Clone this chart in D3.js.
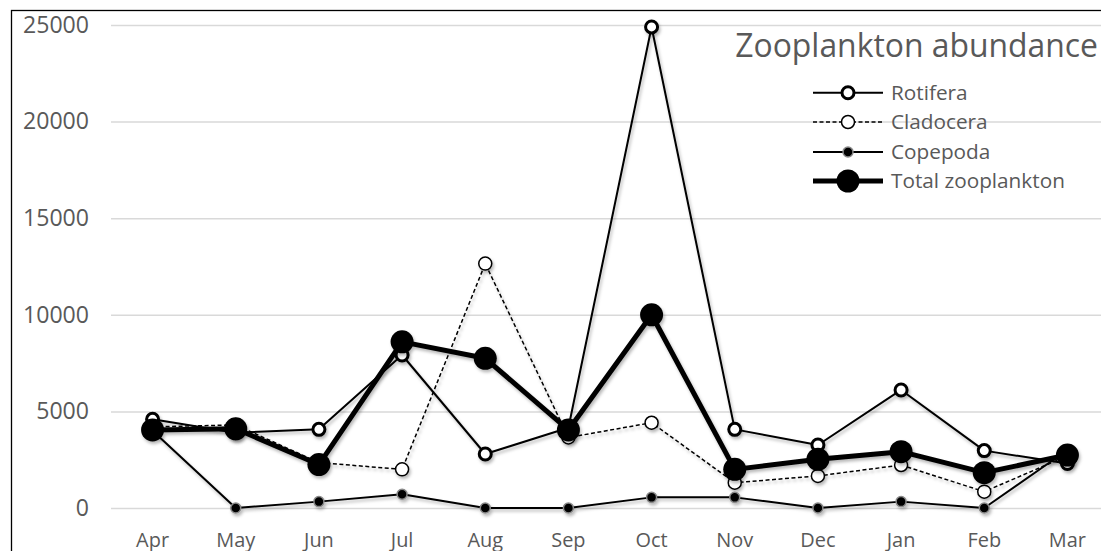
<!DOCTYPE html>
<html><head><meta charset="utf-8">
<script src="https://cdn.jsdelivr.net/npm/d3@7"></script>
<style>body{margin:0;background:#fff;} svg{display:block}</style>
</head><body>
<svg id="c" width="1101" height="551"></svg>
<script>
const months = ["Apr","May","Jun","Jul","Aug","Sep","Oct","Nov","Dec","Jan","Feb","Mar"];
const rotifera  = [4590, 3900, 4070, 7920, 2795, 4150, 24900, 4070, 3260, 6110, 2970, 2300];
const cladocera = [4200, 4300, 2350, 2000, 12650, 3650, 4415, 1310, 1660, 2225, 845, 2700];
const copepoda  = [4000, 0, 330, 710, 0, 0, 550, 550, 0, 330, 0, 3000];
const total     = [4040, 4100, 2250, 8600, 7750, 4040, 10000, 2000, 2520, 2915, 1830, 2740];
const yTicks = [0, 5000, 10000, 15000, 20000, 25000];
const titleText = "Zooplankton abundance";
const seriesNames = ["Rotifera", "Cladocera", "Copepoda", "Total zooplankton"];

(function(){
const svg = d3.select("#c");
const textColor = "#595959";
const fontFam = "'Open Sans', 'Liberation Sans', sans-serif";

const defs = svg.append("defs");
const f = defs.append("filter").attr("id","sh").attr("x","-20%").attr("y","-20%").attr("width","140%").attr("height","140%");
f.append("feDropShadow").attr("dx",1.5).attr("dy",2.5).attr("stdDeviation",1.6)
  .attr("flood-color","#000").attr("flood-opacity",0.28);

const pLeft = 111, pRight = 1109, pTop = 25, pBottom = 508;
const x = d3.scaleBand().domain(months).range([pLeft, pRight]);
const cx = m => x(m) + x.bandwidth()/2;
const y = d3.scaleLinear().domain([0, 25000]).range([pBottom, pTop]);

function fitSize(str, target) {
  const t = svg.append("text").attr("font-family", fontFam).attr("font-size", 100).text(str);
  const w = t.node().getComputedTextLength();
  t.remove();
  return 100 * target / w;
}
const ySize = fitSize("25000", 66);
const xSize = fitSize("May", 39);
const legSize = fitSize("Total zooplankton", 174);
const titleSize = fitSize(titleText, 363);

svg.append("rect").attr("x", 11.5).attr("y", 10.5).attr("width", 1200).attr("height", 700)
  .attr("fill", "none").attr("stroke", "#000").attr("stroke-width", 1.3);

const yAxis = svg.append("g").attr("transform", `translate(${pLeft},0)`)
  .call(d3.axisLeft(y).tickValues(yTicks).tickSize(-(pRight-pLeft)).tickPadding(22).tickFormat(d3.format("d")));
yAxis.select(".domain").remove();
yAxis.selectAll("line").attr("stroke", "#d9d9d9").attr("stroke-width", 1.5);
yAxis.selectAll("text").attr("fill", textColor).attr("font-family", fontFam).attr("font-size", ySize);

const xAxis = svg.append("g").attr("transform", `translate(0,${pBottom})`)
  .call(d3.axisBottom(x).tickSize(0).tickPadding(0));
xAxis.select(".domain").remove();
xAxis.selectAll("text").attr("fill", textColor).attr("font-family", fontFam).attr("font-size", xSize)
  .attr("dy", null).attr("y", 39);

svg.append("text").attr("x", 1098).attr("y", 57).attr("text-anchor", "end")
  .attr("fill", textColor).attr("font-family", fontFam).attr("font-size", titleSize).text(titleText);

const styles = [
  {data: rotifera, lw: 2, dash: null, r: 6, fill: "#fff", stroke: "#000", sw: 3},
  {data: cladocera, lw: 1.5, dash: "4,2.5", r: 6.5, fill: "#fff", stroke: "#000", sw: 1.5},
  {data: copepoda, lw: 2, dash: null, r: 5, fill: "#000", stroke: "#888", sw: 1.5},
  {data: total, lw: 5, dash: null, r: 11.5, fill: "#000", stroke: "#000", sw: 0}
];

const line = d3.line().x((d,i) => cx(months[i])).y(d => y(d));

styles.forEach(s => {
  const g = svg.append("g").attr("filter", "url(#sh)");
  g.append("path").attr("d", line(s.data)).attr("fill", "none").attr("stroke", "#000")
    .attr("stroke-width", s.lw).attr("stroke-dasharray", s.dash).attr("stroke-linejoin", "round");
  g.selectAll("circle").data(s.data).join("circle")
    .attr("cx", (d,i) => cx(months[i])).attr("cy", d => y(d)).attr("r", s.r)
    .attr("fill", s.fill).attr("stroke", s.stroke).attr("stroke-width", s.sw);
});

const legY = [92.7, 122, 152, 181];
styles.forEach((s, i) => {
  const g = svg.append("g").attr("transform", `translate(0,${legY[i]})`);
  g.append("line").attr("x1", 813).attr("x2", 883).attr("y1", 0).attr("y2", 0)
    .attr("stroke", "#000").attr("stroke-width", s.lw).attr("stroke-dasharray", s.dash);
  g.append("circle").attr("cx", 848).attr("cy", 0).attr("r", s.r)
    .attr("fill", s.fill).attr("stroke", s.stroke).attr("stroke-width", s.sw);
  g.append("text").attr("x", 891).attr("y", 0).attr("dy", "0.35em")
    .attr("fill", textColor).attr("font-family", fontFam).attr("font-size", legSize).text(seriesNames[i]);
});
})();
</script>
</body></html>
